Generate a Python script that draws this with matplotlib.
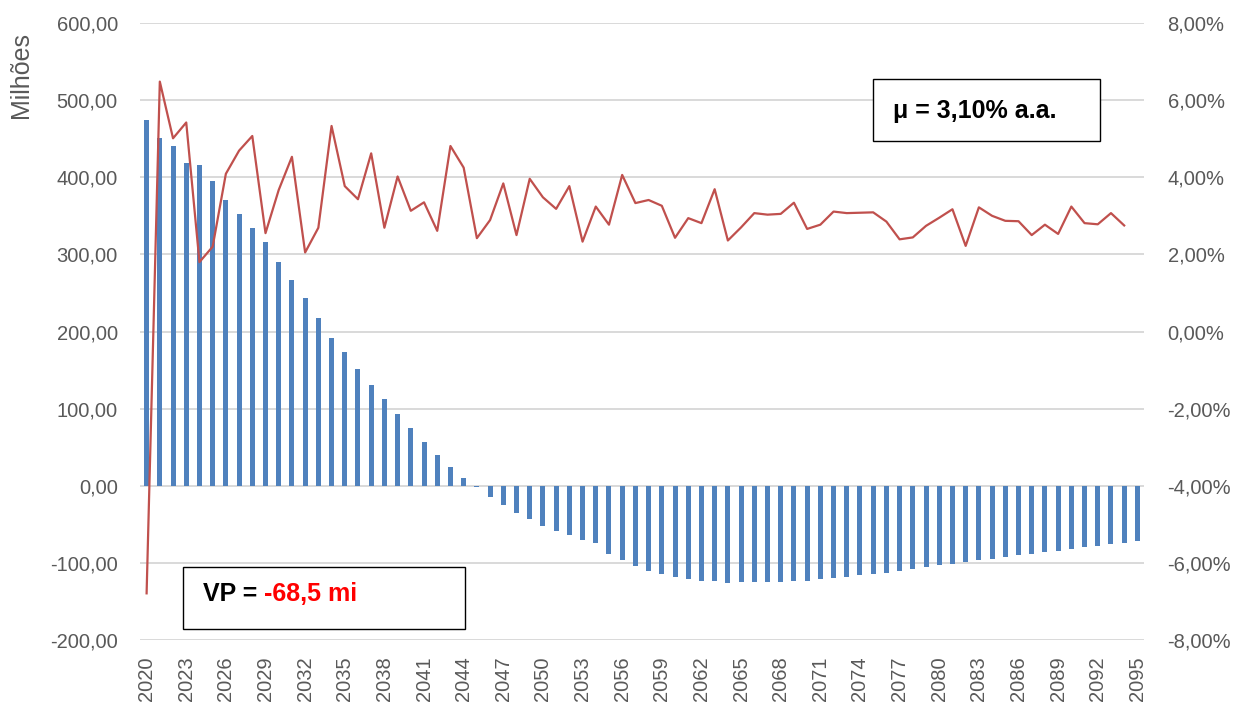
from matplotlib import pyplot as plt
from matplotlib.patches import Rectangle
from matplotlib.ticker import FuncFormatter
import numpy as np

plt.rcParams['font.family'] = ['Liberation Sans', 'DejaVu Sans']

# anos do fluxo (barras) e taxa anual (linha, eixo secundario)
years = list(range(2020, 2096))
fluxo = [474, 451, 440, 418, 416, 395, 371, 352, 334, 316,
         290, 267, 244, 217, 192, 173, 152, 131, 112, 93,
         75, 57, 40, 24, 10, -1, -14, -25, -35, -43,
         -52, -59, -64, -70, -74, -89, -96, -104, -110, -115,
         -118, -121, -123, -124, -126, -125, -125, -125, -124.5, -123.5,
         -123, -121.5, -120, -118, -116, -115, -113, -111, -108, -105.5,
         -103, -101, -99, -96.5, -95, -92.5, -90, -88, -85.5, -84,
         -81.5, -79.5, -78, -75.5, -74, -71.5]
taxa = [-6.79, 6.48, 5.01, 5.42, 1.80, 2.20, 4.09, 4.69, 5.07, 2.55,
        3.67, 4.53, 2.05, 2.69, 5.33, 3.77, 3.43, 4.62, 2.69, 4.02,
        3.13, 3.35, 2.61, 4.81, 4.25, 2.42, 2.89, 3.84, 2.50, 3.96,
        3.48, 3.18, 3.77, 2.33, 3.24, 2.77, 4.06, 3.33, 3.41, 3.26,
        2.43, 2.94, 2.81, 3.69, 2.36, 2.70, 3.07, 3.03, 3.05, 3.34,
        2.66, 2.77, 3.11, 3.07, 3.08, 3.09, 2.85, 2.39, 2.44, 2.74,
        2.95, 3.17, 2.22, 3.22, 3.00, 2.87, 2.86, 2.50, 2.77, 2.53,
        3.24, 2.81, 2.78, 3.07, 2.75]
mu_txt = "μ = 3,10% a.a."
vp_lbl = "VP = "
vp_val = "-68,5 mi"

W, H = 1236, 702
fig = plt.figure(figsize=(W / 100, H / 100), dpi=100)
ax1 = fig.add_axes([140 / W, 1 - 640 / H, (1144 - 140) / W, (640 - 23) / H])
ax2 = ax1.twinx()

x = np.arange(len(years))
ax1.bar(x, fluxo, width=0.38, color='#4F81BD', zorder=2)
ax2.plot(x[:len(taxa)], taxa, color='#C0504D', linewidth=1.6)

ax1.set_xlim(-0.5, len(years) - 0.5)
ax1.set_ylim(-200, 600)
ax1.set_yticks(np.arange(-200, 601, 100))
ax2.set_ylim(-8, 8)
ax2.set_yticks(np.arange(-8, 8.1, 2))
ax1.yaxis.set_major_formatter(FuncFormatter(lambda v, p: f"{v:.2f}".replace('.', ',')))
ax2.yaxis.set_major_formatter(FuncFormatter(lambda v, p: f"{v:.2f}%".replace('.', ',')))
ax1.set_xticks(x[::3])
ax1.set_xticklabels([str(y) for y in years[::3]], rotation=90)

ax1.grid(axis='y', color='#D9D9D9', linewidth=1.4, zorder=0)
ax1.set_axisbelow(True)
for a in (ax1, ax2):
    for s in a.spines.values():
        s.set_visible(False)
    a.tick_params(length=0, labelsize=14.5, colors='#595959')
ax1.tick_params(axis='y', pad=16)
ax2.tick_params(axis='y', pad=17)
ax1.tick_params(axis='x', pad=12)

fig.text(21 / W, 1 - 75 / H, "Milhões", rotation=90, ha='center', va='center',
         fontsize=18, color='#595959')

# caixas de texto
fig.add_artist(Rectangle((873 / W, 1 - 141 / H), 227 / W, 62 / H, transform=fig.transFigure,
                         facecolor='white', edgecolor='black', linewidth=1.0, zorder=5))
fig.text(893 / W, 1 - 111 / H, mu_txt, fontsize=18, fontweight='bold', va='center', zorder=6)

fig.add_artist(Rectangle((183 / W, 1 - 629 / H), 282 / W, 62 / H, transform=fig.transFigure,
                         facecolor='white', edgecolor='black', linewidth=1.0, zorder=5))
t1 = fig.text(203 / W, 1 - 594 / H, vp_lbl, fontsize=18, fontweight='bold', va='center', zorder=6)
fig.canvas.draw()
bb = t1.get_window_extent().transformed(fig.transFigure.inverted())
fig.text(bb.x1, 1 - 594 / H, vp_val, fontsize=18, fontweight='bold', va='center',
         color='#FF0000', zorder=6)

fig.savefig("out.png", dpi=100)
